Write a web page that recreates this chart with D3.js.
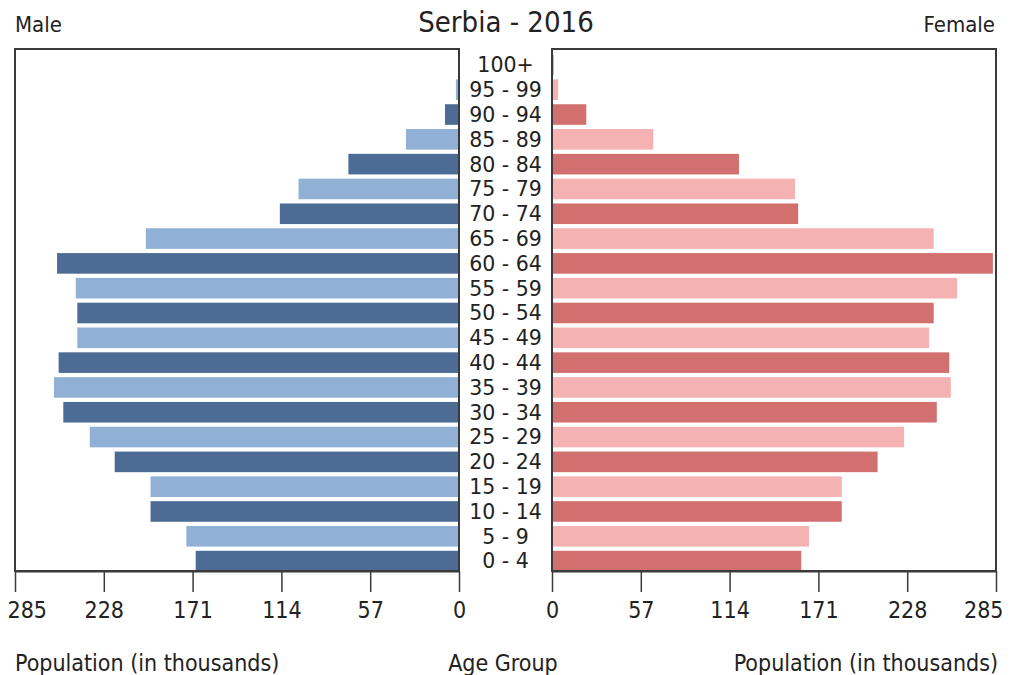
<!DOCTYPE html>
<html>
<head>
<meta charset="utf-8">
<script src="https://cdn.jsdelivr.net/npm/d3@7"></script>
<style>
  body { margin: 0; background: #fff; }
  svg text { fill: #222; }
  .cond { font-family: "DejaVu Sans Condensed", "DejaVu Sans", sans-serif; }
  .age { font-family: "DejaVu Sans", sans-serif; font-size: 20.5px; }
</style>
</head>
<body>
<div id="chart"></div>
<script>
// age groups, bottom to top
var ages = ["0 - 4", "5 - 9", "10 - 14", "15 - 19", "20 - 24", "25 - 29", "30 - 34",
            "35 - 39", "40 - 44", "45 - 49", "50 - 54", "55 - 59", "60 - 64", "65 - 69",
            "70 - 74", "75 - 79", "80 - 84", "85 - 89", "90 - 94", "95 - 99", "100+"];
// population in thousands
var male   = [169, 175, 198, 198, 221, 237, 254, 260, 257, 245, 245, 246, 258, 201,
              115, 103, 71, 34, 9, 2, 0.5];
var female = [160, 165, 186, 186, 209, 226, 247, 256, 255, 242, 245, 260, 283, 245,
              158, 156, 120, 65, 22, 4, 1];
var ticks = [0, 57, 114, 171, 228, 285];

var width = 1010, height = 675;
var colors = {
    male:   { dark: "#4c6c95", light: "#91b0d6" },
    female: { dark: "#d2706f", light: "#f4b2b2" }
};

var svg = d3.select("#chart").append("svg")
    .attr("width", width)
    .attr("height", height);

var plotTop = 49, plotBottom = 571;
var xMale = d3.scaleLinear().domain([0, 285]).range([459, 15]);
var xFemale = d3.scaleLinear().domain([0, 285]).range([552, 996]);
var y = d3.scaleBand().domain(ages).range([573.5, 52.5]).paddingInner(0.17).paddingOuter(0.085);

// male bars
svg.selectAll(".mbar")
    .data(male)
    .enter().append("rect")
    .attr("class", "mbar")
    .attr("x", function(d) { return xMale(d); })
    .attr("y", function(d, i) { return y(ages[i]); })
    .attr("width", function(d) { return xMale(0) - xMale(d); })
    .attr("height", y.bandwidth())
    .attr("fill", function(d, i) { return i % 2 == 0 ? colors.male.dark : colors.male.light; });

// female bars
svg.selectAll(".fbar")
    .data(female)
    .enter().append("rect")
    .attr("class", "fbar")
    .attr("x", xFemale(0))
    .attr("y", function(d, i) { return y(ages[i]); })
    .attr("width", function(d) { return xFemale(d) - xFemale(0); })
    .attr("height", y.bandwidth())
    .attr("fill", function(d, i) { return i % 2 == 0 ? colors.female.dark : colors.female.light; });

// panel frames
[xMale, xFemale].forEach(function(sc) {
    var r = sc.range();
    svg.append("rect")
        .attr("x", Math.min(r[0], r[1]))
        .attr("y", plotTop)
        .attr("width", Math.abs(r[1] - r[0]))
        .attr("height", plotBottom - plotTop)
        .attr("fill", "none")
        .attr("stroke", "#3a3a3a")
        .attr("stroke-width", 2);
});

// age labels
svg.selectAll(".age")
    .data(ages)
    .enter().append("text")
    .attr("class", "age")
    .attr("x", 505.5)
    .attr("y", function(d) { return y(d) + y.bandwidth() / 2; })
    .attr("dy", "0.36em")
    .attr("text-anchor", "middle")
    .text(function(d) { return d; });

// axes
function drawAxis(sc, side) {
    var g = svg.append("g")
        .attr("class", "axis cond")
        .attr("transform", "translate(0," + plotBottom + ")")
        .call(d3.axisBottom(sc).tickValues(ticks).tickSize(21).tickPadding(10).tickSizeOuter(0));
    g.select(".domain").attr("stroke", "#3a3a3a").attr("stroke-width", 2);
    g.selectAll(".tick line").attr("stroke", "#3a3a3a").attr("stroke-width", 1.5);
    g.selectAll(".tick text")
        .attr("fill", "#222")
        .style("font-family", "'DejaVu Sans Condensed', 'DejaVu Sans', sans-serif")
        .style("font-size", "23px");
    // keep the outermost label inside the page
    g.selectAll(".tick text")
        .filter(function(d) { return d == 285; })
        .attr("text-anchor", side == "left" ? "start" : "end")
        .attr("x", side == "left" ? -8 : 7);
}
drawAxis(xMale, "left");
drawAxis(xFemale, "right");

// titles
svg.append("text")
    .attr("class", "cond")
    .attr("x", 506)
    .attr("y", 32)
    .attr("text-anchor", "middle")
    .style("font-size", "29px")
    .text("Serbia - 2016");

svg.append("text")
    .attr("class", "cond")
    .attr("x", 15)
    .attr("y", 32)
    .style("font-size", "22px")
    .text("Male");

svg.append("text")
    .attr("class", "cond")
    .attr("x", 995)
    .attr("y", 32)
    .attr("text-anchor", "end")
    .style("font-size", "22px")
    .text("Female");

svg.append("text")
    .attr("class", "cond")
    .attr("x", 15)
    .attr("y", 671)
    .style("font-size", "23px")
    .text("Population (in thousands)");

svg.append("text")
    .attr("class", "cond")
    .attr("x", 503)
    .attr("y", 671)
    .attr("text-anchor", "middle")
    .style("font-size", "23px")
    .text("Age Group");

svg.append("text")
    .attr("class", "cond")
    .attr("x", 998)
    .attr("y", 671)
    .attr("text-anchor", "end")
    .style("font-size", "23px")
    .text("Population (in thousands)");
</script>
</body>
</html>
